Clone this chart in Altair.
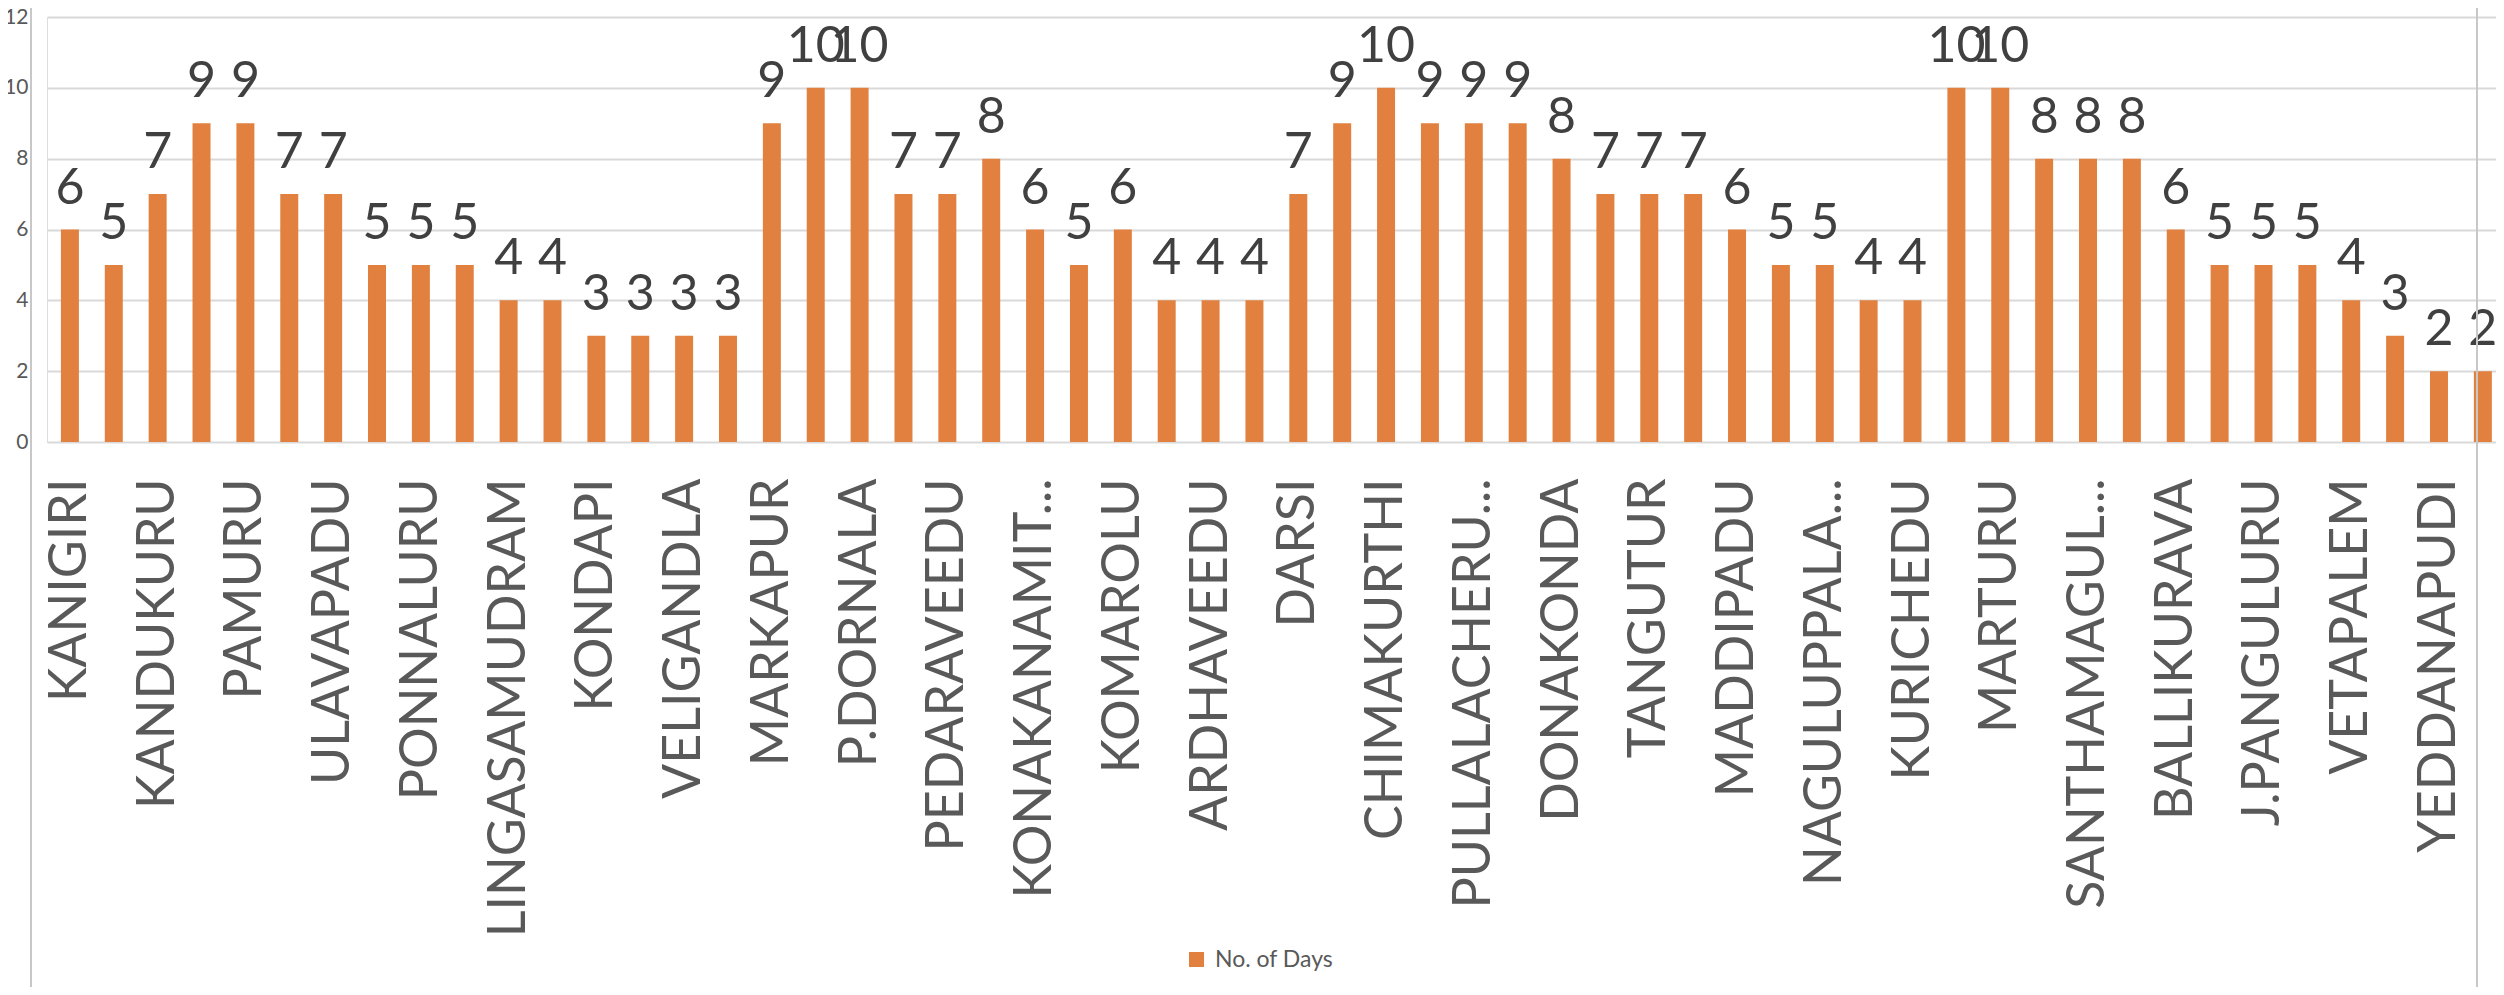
import altair as alt
import pandas as pd

mandals = [
    "KANIGIRI", "HANUMANTHUNIPADU", "KANDUKURU", "VOLETIVARIPALEM", "PAMURU",
    "C.S.PURAM", "ULAVAPADU", "GUDLURU", "PONNALURU", "SINGARAYAKONDA",
    "LINGASAMUDRAM", "ZARUGUMALLI", "KONDAPI", "MARRIPUDI", "VELIGANDLA",
    "PEDACHERLOPALLI", "MARKAPUR", "TARLUPADU", "P.DORNALA", "Y.PALEM",
    "PEDARAVEEDU", "TRIPURANTHAKAM", "KONAKANAMIT...", "PODILI", "KOMAROLU",
    "BESTAVARIPETA", "ARDHAVEEDU", "CUMBUM", "DARSI", "MUNDLAMURU",
    "CHIMAKURTHI", "SANTHANUTHALAPADU", "PULLALACHERU...", "KOTHAPATNAM", "DONAKONDA",
    "ONGOLE", "TANGUTUR", "N.G.PADU", "MADDIPADU", "KORISAPADU",
    "NAGULUPPALA...", "CHIRALA", "KURICHEDU", "ADDANKI", "MARTURU",
    "INKOLLU", "SANTHAMAGUL...", "PARCHUR", "BALLIKURAVA", "KARAMCHEDU",
    "J.PANGULURU", "CHINAGANJAM", "VETAPALEM", "GIDDALURU", "YEDDANAPUDI",
    "RACHERLA",
]
days = [
    6, 5, 7, 9, 9, 7, 7, 5, 5, 5,
    4, 4, 3, 3, 3, 3, 9, 10, 10, 7,
    7, 8, 6, 5, 6, 4, 4, 4, 7, 9,
    10, 9, 9, 9, 8, 7, 7, 7, 6, 5,
    5, 4, 4, 10, 10, 8, 8, 8, 6, 5,
    5, 5, 4, 3, 2, 2,
]
shown_labels = mandals[0::2]
y_ticks = [0, 2, 4, 6, 8, 10, 12]
series_name = "No. of Days"

df = pd.DataFrame({"Mandal": mandals, "Days": days, "Series": series_name})

FONT = "Lato"
ORANGE = "#E2813F"
GREY = "#595959"

x_enc = alt.X(
    "Mandal:N",
    sort=mandals,
    title=None,
    scale=alt.Scale(paddingInner=0.59, paddingOuter=0.206, align=0.77),
    axis=alt.Axis(
        values=shown_labels,
        labelAngle=-90,
        labelFont=FONT,
        labelFontSize=52,
        labelColor=GREY,
        labelPadding=36,
        labelLimit=1000,
        ticks=False,
        domain=False,
        grid=False,
    ),
)
y_enc = alt.Y(
    "Days:Q",
    title=None,
    scale=alt.Scale(domain=[0, 12], nice=False),
    axis=alt.Axis(
        values=y_ticks,
        labelFont=FONT,
        labelFontSize=21,
        labelColor=GREY,
        labelPadding=19,
        ticks=False,
        domain=False,
        grid=True,
        gridColor="#D9D9D9",
        gridWidth=2,
    ),
)

bars = alt.Chart(df).mark_bar(color=ORANGE).encode(
    x=x_enc,
    y=y_enc,
    color=alt.Color(
        "Series:N",
        scale=alt.Scale(domain=[series_name], range=[ORANGE]),
        legend=alt.Legend(
            title=None,
            orient="none",
            legendX=1138,
            legendY=931,
            padding=0,
            symbolType="square",
            symbolSize=225,
            symbolStrokeWidth=0,
            labelFont=FONT,
            labelFontSize=23,
            labelColor=GREY,
            labelOffset=7,
        ),
    ),
)

labels = alt.Chart(df).mark_text(
    font=FONT, fontSize=50, color="#404040", baseline="alphabetic", dy=-26
).encode(
    x=alt.X("Mandal:N", sort=mandals),
    y="Days:Q",
    text="Days:Q",
)

borders = pd.DataFrame({"px": [-16, 2430]})
frame = alt.Chart(borders).mark_rule(color="#C8C8C8", strokeWidth=2).encode(
    x=alt.X("px:Q", scale=None),
    y=alt.value(-17),
    y2=alt.value(980),
)

chart = (
    alt.layer(bars, labels, frame)
    .properties(
        width=2449,
        height=425,
        padding={"left": 39, "top": 9, "right": 0, "bottom": 545},
        autosize=alt.AutoSizeParams(type="none"),
    )
    .configure_view(stroke=None)
    .configure(background="white")
)

chart.save("out.html", embed_options={"renderer": "svg", "actions": False})
